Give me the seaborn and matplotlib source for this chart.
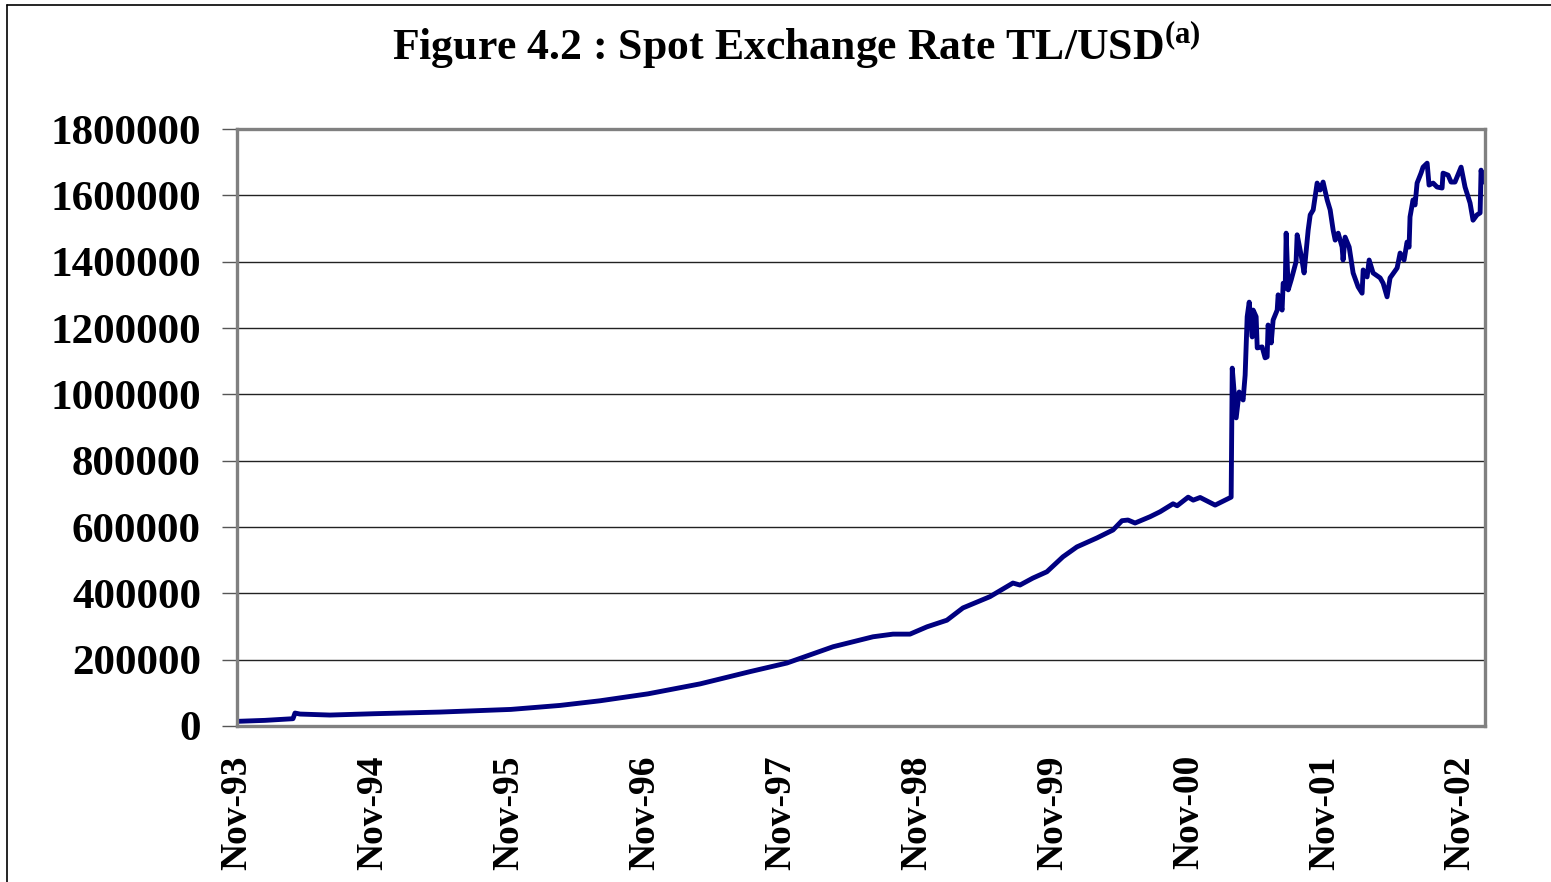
import numpy as np
import pandas as pd
import matplotlib
matplotlib.use("Agg")
import matplotlib.pyplot as plt
import matplotlib.dates as mdates
from matplotlib.lines import Line2D
from matplotlib.ticker import FuncFormatter
import seaborn as sns

years = [1993.833, 1994.039, 1994.245, 1994.260, 1994.297, 1994.517, 1994.841,
         1995.327, 1995.849, 1996.210, 1996.504, 1996.857, 1997.240, 1997.608,
         1997.880, 1998.219, 1998.513, 1998.660, 1998.785, 1998.910, 1999.057,
         1999.175, 1999.374, 1999.543, 1999.595, 1999.690, 1999.793, 1999.911,
         2000.014, 2000.161, 2000.279, 2000.345, 2000.389, 2000.441, 2000.551,
         2000.625, 2000.720, 2000.750, 2000.831, 2000.868, 2000.919, 2001.029,
         2001.088, 2001.147, 2001.155, 2001.184, 2001.206, 2001.235, 2001.250,
         2001.265, 2001.280, 2001.302, 2001.309, 2001.331, 2001.339, 2001.375,
         2001.397, 2001.412, 2001.419, 2001.442, 2001.456, 2001.486, 2001.493,
         2001.522, 2001.530, 2001.545, 2001.552, 2001.567, 2001.589, 2001.625,
         2001.633, 2001.662, 2001.684, 2001.714, 2001.729, 2001.751, 2001.780,
         2001.802, 2001.824, 2001.854, 2001.876, 2001.898, 2001.913, 2001.935,
         2001.964, 2001.971, 2001.986, 2002.016, 2002.045, 2002.082, 2002.111,
         2002.119, 2002.148, 2002.163, 2002.192, 2002.244, 2002.266, 2002.295,
         2002.317, 2002.369, 2002.391, 2002.420, 2002.442, 2002.457, 2002.464,
         2002.486, 2002.501, 2002.516, 2002.545, 2002.560, 2002.590, 2002.604,
         2002.634, 2002.663, 2002.700, 2002.707, 2002.744, 2002.766, 2002.795,
         2002.840, 2002.869, 2002.906, 2002.928, 2002.957, 2002.980, 2002.987,
         2003.001]
rate = [14000, 17000, 22000, 39000, 36000, 33000, 37000,
        42000, 50000, 62000, 76000, 97000, 127000, 164000,
        190000, 239000, 269000, 277000, 277000, 299000, 319000,
        356000, 390000, 431000, 425000, 446000, 465000, 510000,
        540000, 567000, 591000, 619000, 621000, 612000, 631000,
        646000, 670000, 664000, 690000, 681000, 689000, 666000,
        678000, 690000, 1079000, 929000, 1007000, 983000, 1058000,
        1234000, 1278000, 1173000, 1254000, 1234000, 1140000, 1143000,
        1110000, 1113000, 1209000, 1155000, 1224000, 1254000, 1300000,
        1254000, 1335000, 1320000, 1486000, 1315000, 1345000, 1400000,
        1481000, 1420000, 1366000, 1495000, 1541000, 1556000, 1637000,
        1616000, 1640000, 1586000, 1556000, 1495000, 1465000, 1486000,
        1444000, 1405000, 1474000, 1444000, 1366000, 1324000, 1305000,
        1375000, 1354000, 1405000, 1366000, 1351000, 1335000, 1294000,
        1351000, 1381000, 1426000, 1405000, 1459000, 1444000, 1535000,
        1586000, 1571000, 1637000, 1667000, 1685000, 1697000, 1631000,
        1637000, 1625000, 1622000, 1667000, 1661000, 1640000, 1640000,
        1685000, 1625000, 1577000, 1525000, 1541000, 1547000, 1676000,
        1640000]
tick_years = [1993, 1994, 1995, 1996, 1997, 1998, 1999, 2000, 2001, 2002]


def to_date(y):
    yr = int(y)
    start = pd.Timestamp(yr, 1, 1)
    span = (pd.Timestamp(yr + 1, 1, 1) - start).days
    return start + pd.Timedelta(days=(y - yr) * span)


df = pd.DataFrame({"date": [to_date(y) for y in years], "rate": rate})

sns.set_theme(style="white")
plt.rcParams['font.family'] = ['Liberation Serif', 'DejaVu Serif']
plt.rcParams['font.weight'] = 'bold'
plt.rcParams['text.color'] = 'black'
plt.rcParams['xtick.color'] = 'black'
plt.rcParams['ytick.color'] = 'black'
plt.rcParams['mathtext.fontset'] = 'custom'
plt.rcParams['mathtext.bf'] = 'Liberation Serif:bold'
plt.rcParams['mathtext.rm'] = 'Liberation Serif:bold'

fig = plt.figure(figsize=(15.51, 8.82), dpi=100)
ax = fig.add_axes([237 / 1551, 1 - 726 / 882, (1485 - 237) / 1551, (726 - 129) / 882])

sns.lineplot(data=df, x="date", y="rate", ax=ax, color="#000080",
             linewidth=3.5, estimator=None)

ax.set_ylim(0, 1800000)
ax.set_yticks(np.arange(0, 1800001, 200000))
ax.yaxis.set_major_formatter(FuncFormatter(lambda v, p: f"{v:.0f}"))
ax.set_xlim(to_date(1993.833), to_date(2003.016))
ax.set_xticks([pd.Timestamp(y, 11, 1) for y in tick_years])
ax.xaxis.set_major_formatter(mdates.DateFormatter("%b-%y"))

ax.grid(axis="y", color="#222222", linewidth=1.0)
ax.grid(axis="x", visible=False)
for s in ax.spines.values():
    s.set_color("#808080")
    s.set_linewidth(2.4)

ax.tick_params(axis="y", left=True, length=11, width=1.0, color="#555555",
               labelcolor="black", pad=15, labelsize=31)
ax.tick_params(axis="x", bottom=False, length=0, pad=21, labelsize=27,
               labelcolor="black", labelrotation=90)
for lab in ax.get_yticklabels() + ax.get_xticklabels():
    lab.set_fontweight("bold")
for lab in ax.get_xticklabels():
    lab.set_va("top")
    lab.set_ha("center")
ax.set_xlabel("")
ax.set_ylabel("")

fig.text(796 / 1551, 1 - 46 / 882,
         r"Figure 4.2 : Spot Exchange Rate TL/USD$^{\mathbf{(a)}}$",
         ha="center", va="center", fontsize=31.5, fontweight="bold",
         color="black")

# frame around the chart area (cut off at right and bottom)
fig.add_artist(Line2D([7 / 1551, 1.0], [1 - 5 / 882, 1 - 5 / 882],
                      color="black", linewidth=1.2, transform=fig.transFigure))
fig.add_artist(Line2D([7 / 1551, 7 / 1551], [0.0, 1 - 5 / 882],
                      color="black", linewidth=1.2, transform=fig.transFigure))

fig.savefig("out.png", dpi=100)
